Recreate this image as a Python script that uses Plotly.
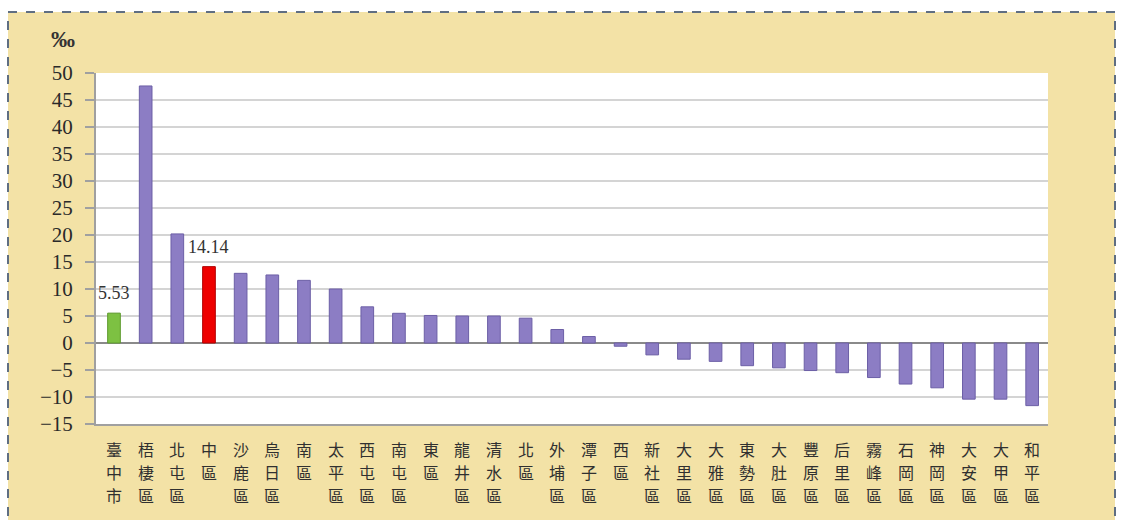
import plotly.graph_objects as go

districts = ["臺中市", "梧棲區", "北屯區", "中區", "沙鹿區", "烏日區", "南區", "太平區",
             "西屯區", "南屯區", "東區", "龍井區", "清水區", "北區", "外埔區", "潭子區",
             "西區", "新社區", "大里區", "大雅區", "東勢區", "大肚區", "豐原區", "后里區",
             "霧峰區", "石岡區", "神岡區", "大安區", "大甲區", "和平區"]
values = [5.53, 47.6, 20.2, 14.14, 12.9, 12.6, 11.6, 10.0,
          6.7, 5.5, 5.1, 5.0, 5.0, 4.6, 2.5, 1.2,
          -0.6, -2.2, -3.0, -3.4, -4.2, -4.6, -5.1, -5.5,
          -6.4, -7.6, -8.3, -10.4, -10.4, -11.6]
highlight = {"臺中市": "#7DC142", "中區": "#EE0000"}
labelled = ["臺中市", "中區"]
y_ticks = list(range(-15, 51, 5))

colors = [highlight.get(d, "#8C7DC4") for d in districts]
line_colors = [{"臺中市": "#5E9A2E", "中區": "#B00000"}.get(d, "#6C5FA6") for d in districts]

W, H = 1121, 520
L, R, T, B = 96, 73, 73, 96
pw, ph = W - L - R, H - T - B

def px_x(x):
    return (x - L) / pw

def px_y(y):
    return (H - B - y) / ph

fig = go.Figure()
fig.add_trace(go.Bar(
    x=districts, y=values,
    marker=dict(color=colors, line=dict(color=line_colors, width=1)),
    hoverinfo="x+y",
))

# vertical category labels, one character per line
for d in districts:
    for i, ch in enumerate(d):
        fig.add_annotation(x=d, y=0, yref="paper", text=ch, showarrow=False,
                           yanchor="middle", yshift=-(25 + i * 23), borderpad=0,
                           font=dict(family="Noto Sans CJK TC", size=16, color="#303030"))

for d in labelled:
    v = values[districts.index(d)]
    fig.add_annotation(x=d, y=v, text=f"{v:.2f}", showarrow=False,
                       yanchor="bottom", yshift=8,
                       font=dict(family="Liberation Serif", size=18, color="#333333"))

fig.add_annotation(xref="paper", yref="paper", x=px_x(77), y=px_y(39), text="<b>‰</b>",
                   showarrow=False, xanchor="right", yanchor="middle",
                   font=dict(family="Liberation Serif", size=24, color="#333333"))

# beige frame
fig.add_shape(type="rect", xref="paper", yref="paper", layer="below",
              x0=px_x(8), x1=px_x(1115), y0=px_y(525), y1=px_y(12),
              fillcolor="#F3E2A6", line=dict(width=0))
# plot area white
fig.add_shape(type="rect", xref="paper", yref="paper", layer="below",
              x0=0, x1=1, y0=0, y1=1, fillcolor="#FFFFFF", line=dict(width=0))
# dashed border
fig.add_shape(type="rect", xref="paper", yref="paper", layer="above",
              x0=px_x(8), x1=px_x(1115), y0=px_y(525), y1=px_y(12),
              fillcolor="rgba(0,0,0,0)", line=dict(color="#5F6E82", width=2, dash="dash"))

fig.update_layout(
    width=W, height=H,
    margin=dict(l=L, r=R, t=T, b=B),
    paper_bgcolor="#FFFFFF", plot_bgcolor="rgba(0,0,0,0)",
    bargap=0.6, showlegend=False,
    xaxis=dict(showticklabels=False, ticks="", showgrid=False,
               showline=True, linecolor="#A0A0A0", linewidth=2, zeroline=False),
    yaxis=dict(range=[-15, 50], tickvals=y_ticks, ticks="outside", ticklen=9,
               tickcolor="#A0A0A0", tickwidth=2, ticklabelstandoff=8,
               tickfont=dict(family="Liberation Serif", size=21, color="#2A2A2A"),
               showgrid=True, gridcolor="#D4D4D4", gridwidth=2,
               showline=True, linecolor="#A0A0A0", linewidth=2,
               zeroline=True, zerolinecolor="#8A8A8A", zerolinewidth=2),
)

fig.write_html("out.html", config={"displayModeBar": False},
               post_script="document.body.style.margin='0';")
